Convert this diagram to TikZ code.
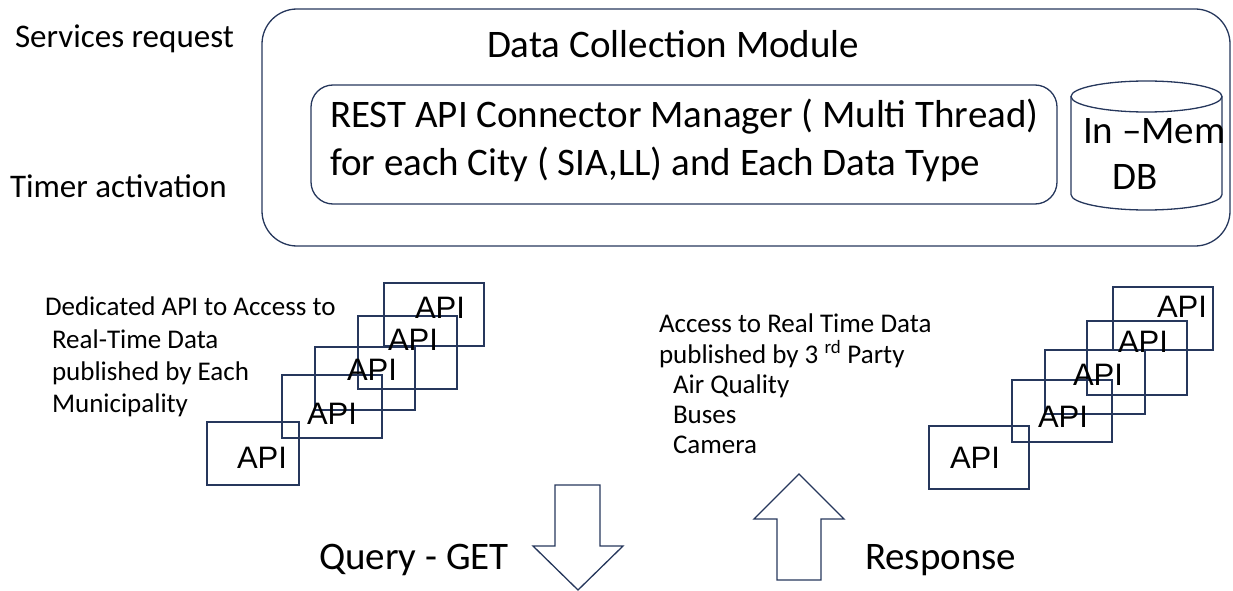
\documentclass[tikz,border=0pt]{standalone}
\usepackage{fontspec}
\setmainfont{Carlito}
\newfontfamily\apifont{Liberation Sans}
\definecolor{edge}{RGB}{38,55,92}

\begin{document}
\begin{tikzpicture}[x=1pt, y=-1pt, line width=1.3pt,
  every node/.style={inner sep=0pt, outer sep=0pt},
  frame/.style={draw=edge, anchor=north west},
  apibox/.style={draw=edge, anchor=north west},
  hugetxt/.style={anchor=base west, font=\fontsize{39}{39}\selectfont},
  bigtxt/.style={anchor=base west, font=\fontsize{33}{33}\selectfont},
  labeltxt/.style={anchor=base west, font=\fontsize{39}{39}\selectfont},
  smalltxt/.style={anchor=base west, font=\fontsize{27}{27}\selectfont},
  apitxt/.style={anchor=base west, font=\apifont\fontsize{31}{31}\selectfont},
  blockarrow/.style={draw=edge, line join=miter}]

\useasboundingbox (0,0) rectangle (1233,591);

% triggers of the module
\node[bigtxt] (req) at (15,48) {Services request};
\node[bigtxt] (timer) at (10,197) {Timer activation};

% data collection module
\node[frame, rounded corners=35pt, minimum width=968pt, minimum height=237pt] (module) at (262,9) {};
\node[hugetxt] (title) at (487,58) {Data Collection Module};
\node[frame, rounded corners=22pt, minimum width=746pt, minimum height=119pt] (manager) at (311,85) {};
\node[hugetxt] (mgr1) at (330,128) {REST API Connector Manager ( Multi Thread)};
\node[hugetxt] (mgr2) at (330,175) {for each City ( SIA,LL) and Each Data Type};

% in-memory database cylinder
\coordinate (db) at (1146.5,96.5);
\draw[draw=edge] (db) ellipse [x radius=75.5, y radius=15.5];
\draw[draw=edge] (1071,96.5) -- (1071,194.5)
  arc [start angle=180, end angle=0, x radius=75.5, y radius=15.5] -- (1222,96.5);
\node[hugetxt] (mem) at (1083,143) {In –Mem};
\node[hugetxt] (dbtxt) at (1112,189) {DB};

% municipality APIs
\node[smalltxt] (mun1) at (45,315) {Dedicated API to Access to};
\node[smalltxt] (mun2) at (52,348) {Real-Time Data};
\node[smalltxt] (mun3) at (52,380) {published by Each};
\node[smalltxt] (mun4) at (52,412) {Municipality};

\node[apibox, minimum width=92pt, minimum height=63pt] (l1) at (207,422) {};
\node[apibox, minimum width=100pt, minimum height=63pt] (l2) at (282,375) {};
\node[apibox, minimum width=100pt, minimum height=63pt] (l3) at (315,347) {};
\node[apibox, minimum width=99pt, minimum height=73pt] (l4) at (358,316) {};
\node[apibox, minimum width=100pt, minimum height=63pt] (l5) at (384,283) {};
\node[apitxt] (l1t) at (237,468) {API};
\node[apitxt] (l2t) at (307,424) {API};
\node[apitxt] (l3t) at (347,380) {API};
\node[apitxt] (l4t) at (388,350) {API};
\node[apitxt] (l5t) at (415,318) {API};

% third party APIs
\node[smalltxt] (tp1) at (659,332) {Access to Real Time Data};
\node[smalltxt] (tp2) at (659,363) {published by 3 \textsuperscript{rd} Party};
\node[smalltxt] (tp3) at (673,393) {Air Quality};
\node[smalltxt] (tp4) at (673,423) {Buses};
\node[smalltxt] (tp5) at (673,453) {Camera};

\node[apibox, minimum width=100pt, minimum height=63pt] (r1) at (929,426) {};
\node[apibox, minimum width=100pt, minimum height=62pt] (r2) at (1012,380) {};
\node[apibox, minimum width=100pt, minimum height=64pt] (r3) at (1045,350) {};
\node[apibox, minimum width=100pt, minimum height=74pt] (r4) at (1087,321) {};
\node[apibox, minimum width=100pt, minimum height=63pt] (r5) at (1113,287) {};
\node[apitxt] (r1t) at (950,468) {API};
\node[apitxt] (r2t) at (1038,427) {API};
\node[apitxt] (r3t) at (1073,385) {API};
\node[apitxt] (r4t) at (1118,352) {API};
\node[apitxt] (r5t) at (1157,317) {API};

% query and response block arrows
\draw[blockarrow] (555,485) -- (600,485) -- (600,546) -- (623,546) -- (578,590)
  -- (533,546) -- (555,546) -- cycle;
\node[labeltxt] (query) at (319,569) {Query - GET};
\draw[blockarrow] (799,474) -- (844,519) -- (821,519) -- (821,580) -- (777,580)
  -- (777,519) -- (754,519) -- cycle;
\node[labeltxt] (resp) at (865,569) {Response};
\end{tikzpicture}
\end{document}
